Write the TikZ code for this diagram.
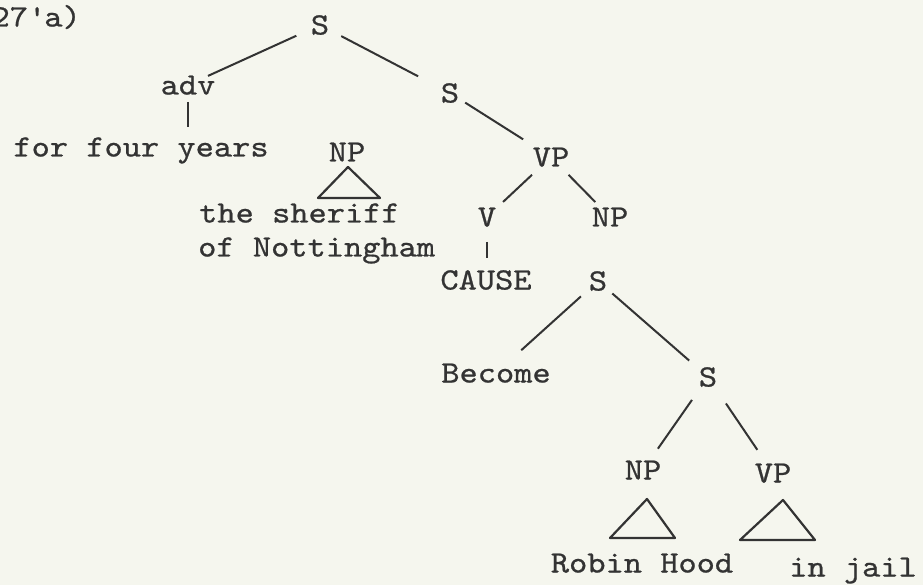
\documentclass[tikz,border=0pt]{standalone}
\usepackage{fontspec}
\newfontfamily\typewriter{lmmono10-regular}[Extension=.otf,FakeStretch=1.12,FakeBold=0.7]
\usetikzlibrary{calc}
\definecolor{paper}{HTML}{F5F6EE}
\definecolor{ink}{HTML}{333333}
\begin{document}
\begin{tikzpicture}[x=1pt,y=-1pt,
  lbl/.style={inner sep=0pt,text height=19pt,text depth=0pt,text=ink,
              font=\typewriter\fontsize{31}{34}\selectfont},
  branch/.style={draw=ink,line width=2pt},
  roof/.style={draw=ink,line width=2.2pt,line join=round}]
\fill[paper] (0,0) rectangle (923,585);
\useasboundingbox (0,0) rectangle (923,585);

% example number
\node[lbl,anchor=east] (num) at (81,17) {27\textquotesingle a)};

% tree labels
\node[lbl] (S1)   at (320,25)  {S};
\node[lbl] (adv)  at (188,85)  {adv};
\node[lbl] (fy)   at (141,147) {for four years};
\node[lbl] (S2)   at (450,93)  {S};
\node[lbl] (NP1)  at (347,152) {NP};
\node[lbl,anchor=west] (sher1) at (199,213) {the sheriff};
\node[lbl,anchor=west] (sher2) at (198,247) {of Nottingham};
\node[lbl] (VP1)  at (551,157) {VP};
\node[lbl] (V)    at (487,217) {V};
\node[lbl] (NP2)  at (610,217) {NP};
\node[lbl] (cause) at (486,280) {CAUSE};
\node[lbl] (S3)   at (598,281) {S};
\node[lbl] (bec)  at (496,373) {Become};
\node[lbl] (S4)   at (708,377) {S};
\node[lbl] (NP3)  at (643,470) {NP};
\node[lbl] (VP3)  at (773,473) {VP};
\node[lbl] (rh)   at (642,563) {Robin Hood};
\node[lbl] (jail) at (853,567) {in jail};

% branches
\draw[branch,shorten <=26pt,shorten >=22pt] (S1.center) -- (adv.center);
\draw[branch,shorten <=24pt,shorten >=36pt] (S1.center) -- (S2.center);
\draw[branch,shorten <=17pt,shorten >=20pt] (adv.center) -- (adv.center |- fy.center);
\draw[branch,shorten <=18pt,shorten >=33pt] (S2.center) -- (VP1.center);
\draw[branch,shorten <=26pt,shorten >=22pt] (VP1.center) -- (V.center);
\draw[branch,shorten <=25pt,shorten >=21pt] (VP1.center) -- (NP2.center);
\draw[branch,line width=1.4pt,shorten <=25pt,shorten >=22pt] (V.center) -- (V.center |- cause.center);
\draw[branch,shorten <=23pt,shorten >=34pt] (S3.center) -- (bec.center);
\draw[branch,shorten <=19pt,shorten >=25pt] (S3.center) -- (S4.center);
\draw[branch,shorten <=28pt,shorten >=26pt] (S4.center) -- (NP3.center);
\draw[branch,shorten <=32pt,shorten >=28pt] (S4.center) -- (VP3.center);

% triangles under phrasal nodes
\draw[roof] ($(NP1.center)+(1,15)$) -- ++(-30,31) -- ++(62,0) -- cycle;
\draw[roof] ($(NP3.center)+(4,29)$) -- ++(-37,39) -- ++(65,0) -- cycle;
\draw[roof] ($(VP3.center)+(10,27)$) -- ++(-43,40) -- ++(75,0) -- cycle;
\end{tikzpicture}
\end{document}
